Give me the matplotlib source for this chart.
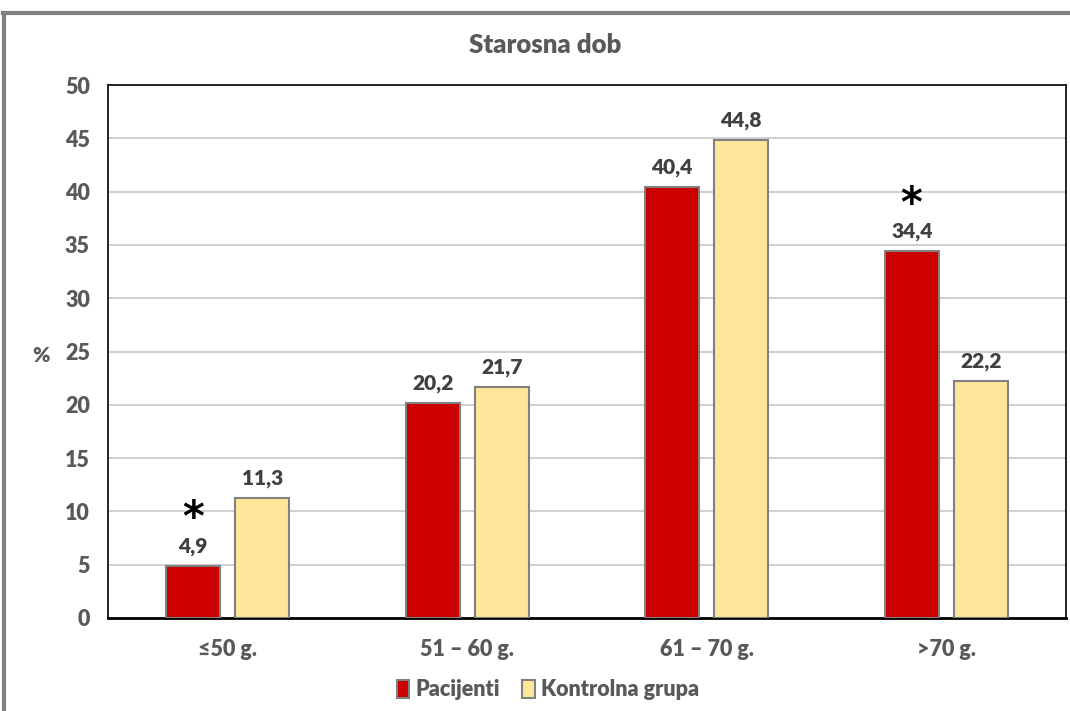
import matplotlib
matplotlib.use('Agg')
import matplotlib.pyplot as plt
import numpy as np
from matplotlib.lines import Line2D

categories = ['≤50 g.', '51 – 60 g.', '61 – 70 g.', '>70 g.']
pacijenti = [4.9, 20.2, 40.4, 34.4]
kontrola = [11.3, 21.7, 44.8, 22.2]
significant = [True, False, False, True]

plt.rcParams['font.family'] = ['Lato', 'DejaVu Sans']
TEXT = '#595959'

fig = plt.figure(figsize=(10.7, 7.11), dpi=100)
ax = fig.add_axes([108 / 1070, 1 - 618 / 711, 958 / 1070, 533 / 711])

x = np.arange(len(categories))
w = 0.225
off = (w + 0.063) / 2
b1 = ax.bar(x - off, pacijenti, w, color='#CC0000', edgecolor='#808080', linewidth=1.5, zorder=3,
            label='Pacijenti')
b2 = ax.bar(x + off, kontrola, w, color='#FFE699', edgecolor='#808080', linewidth=1.5, zorder=3,
            label='Kontrolna grupa')

for bars in (b1, b2):
    for r in bars:
        v = r.get_height()
        ax.annotate(f'{v:.1f}'.replace('.', ','), (r.get_x() + r.get_width() / 2, v),
                    xytext=(0, 14), textcoords='offset points', ha='center', va='center',
                    fontsize=15, fontweight='heavy', color='#404040')

# asterisks over significant differences
for i, s in enumerate(significant):
    if s:
        ax.annotate(r'$\mathbf{*}$', (x[i] - off, pacijenti[i]), xytext=(0, 35),
                    textcoords='offset points', ha='center', va='center', fontsize=30,
                    color='black')

ax.set_xlim(-0.5, 3.5)
ax.set_ylim(0, 50)
ax.set_yticks(range(0, 51, 5))
ax.set_xticks(x)
ax.set_xticklabels(categories)
ax.tick_params(axis='both', length=0, labelsize=15.5, labelcolor=TEXT)
ax.tick_params(axis='x', pad=15)
ax.tick_params(axis='y', pad=13)
for lbl in ax.get_xticklabels() + ax.get_yticklabels():
    lbl.set_fontweight('heavy')
ax.grid(axis='y', color='#C8C8C8', linewidth=1.2, zorder=0)
for sp in ax.spines.values():
    sp.set_color('black')
    sp.set_linewidth(1.2)
ax.spines['bottom'].set_linewidth(2)

fig.text(41 / 1070, 1 - 356 / 711, '%', ha='center', va='center', fontsize=15,
         fontweight='heavy', color=TEXT)
fig.text(545 / 1070, 1 - 45 / 711, 'Starosna dob', ha='center', va='center', fontsize=18.5,
         fontweight='heavy', color=TEXT)

fig.legend(handles=[b1, b2], loc='center', bbox_to_anchor=(548 / 1070, 1 - 690 / 711),
           ncol=2, frameon=False, handlelength=0.6, handleheight=0.9,
           handletextpad=0.3, columnspacing=1.0, prop={'weight': 'heavy', 'size': 15.5})
for t in fig.legends[0].get_texts():
    t.set_color(TEXT)

# outer chart border
fig.add_artist(Line2D([3 / 1070, 1], [1 - 13 / 711, 1 - 13 / 711], transform=fig.transFigure,
                      color='#808080', linewidth=3))
fig.add_artist(Line2D([4 / 1070, 4 / 1070], [0, 1 - 13 / 711], transform=fig.transFigure,
                      color='#808080', linewidth=3))

fig.savefig('out.png', dpi=100, facecolor='white')
